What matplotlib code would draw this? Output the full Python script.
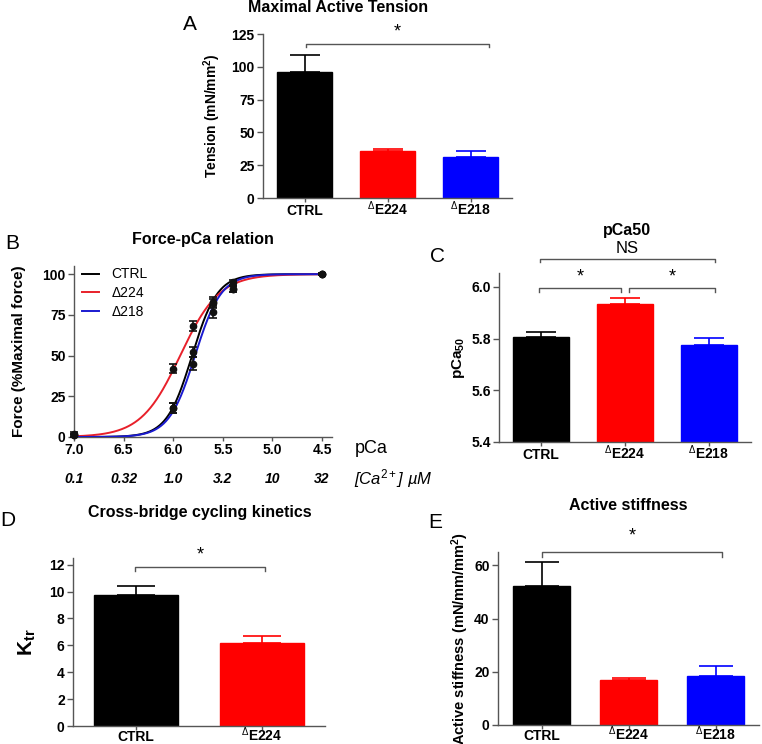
import numpy as np
import matplotlib
matplotlib.use("Agg")
import matplotlib.pyplot as plt
import matplotlib.transforms as mtransforms

plt.rcParams['font.family'] = ['Liberation Sans', 'DejaVu Sans']
plt.rcParams['mathtext.fontset'] = 'custom'
plt.rcParams['mathtext.rm'] = 'Liberation Sans'
plt.rcParams['mathtext.it'] = 'Liberation Sans:italic'
plt.rcParams['mathtext.bf'] = 'Liberation Sans:bold'

# ---------------- data ----------------
groups3 = ["CTRL", "ΔE224", "ΔE218"]
groups2 = ["CTRL", "ΔE224"]
bar_colors = ["#000000", "#ff0000", "#0000ff"]

tension_mean = [96, 35.5, 31]
tension_sem = [13, 2, 5]

pca50_mean = [5.807, 5.935, 5.776]
pca50_sem = [0.019, 0.023, 0.027]

ktr_mean = [9.78, 6.19]
ktr_sem = [0.67, 0.51]

stiff_mean = [52.1, 16.9, 18.4]
stiff_sem = [9.0, 0.9, 3.7]

pca_points = [7.0, 6.0, 5.8, 5.6, 5.4, 4.5]
force_ctrl = [2, 18, 52, 82, 95, 100]
force_ctrl_err = [1, 3, 3, 3, 1.5, 0.5]
force_d224 = [1, 42, 68, 83, 91, 100]
force_d224_err = [1, 3, 3, 3, 2, 0.5]
force_d218 = [1, 18, 45, 77, 91, 100]
force_d218_err = [1, 3, 4, 4, 2, 0.5]

fit_pca50 = {"CTRL": 5.81, "Δ224": 5.93, "Δ218": 5.78}
fit_hill = {"CTRL": 3.4, "Δ224": 2.2, "Δ218": 3.3}
line_colors = {"CTRL": "#000000", "Δ224": "#e8202a", "Δ218": "#1a1ad0"}

pca_ticks = [7.0, 6.5, 6.0, 5.5, 5.0, 4.5]
ca_labels = ["0.1", "0.32", "1.0", "3.2", "10", "32"]

# ---------------- layout ----------------
W, H = 762, 744
fig = plt.figure(figsize=(W / 100, H / 100), dpi=100)


def ax_px(l, r, t, b):
    return fig.add_axes([l / W, 1 - b / H, (r - l) / W, (b - t) / H])


TICK_FS = 10
TITLE_FS = 11.5
LETTER_FS = 15
SPINE_C = "#555555"


def style(ax):
    for s in ["top", "right"]:
        ax.spines[s].set_visible(False)
    for s in ["left", "bottom"]:
        ax.spines[s].set_color(SPINE_C)
        ax.spines[s].set_linewidth(1.0)
    ax.tick_params(direction="out", length=4, width=1.0, color=SPINE_C,
                   labelsize=TICK_FS, pad=2)
    ax.tick_params(axis="x", length=3, pad=1)
    for lab in ax.get_yticklabels() + ax.get_xticklabels():
        lab.set_fontweight("bold")


def xlabels(ax, names, offset_px=16):
    ax.set_xticks(range(len(names)))
    ax.set_xticklabels([])
    trans = mtransforms.offset_copy(ax.get_xaxis_transform(), fig=fig,
                                    x=0, y=-offset_px, units="dots")
    for i, n in enumerate(names):
        if n.startswith("Δ"):
            lab = r"$^{\Delta}$" + n[1:]
        else:
            lab = n
        ax.text(i, 0, lab, transform=trans, ha="center", va="baseline",
                fontweight="bold", fontsize=TICK_FS)


def bars(ax, means, sems, colors, capsize, width=0.66):
    x = np.arange(len(means))
    ax.bar(x, means, width=width, color=colors, edgecolor=colors, zorder=2)
    for xi, m, s, c in zip(x, means, sems, colors):
        ax.errorbar([xi], [m], yerr=[[0], [s]], fmt="none", ecolor=c,
                    elinewidth=1.2, capsize=capsize, capthick=1.2, zorder=1)


def bracket(ax, x0, x1, y, drop, text, ty, fs=13):
    ax.plot([x0, x0, x1, x1], [y - drop, y, y, y - drop], color="#555555",
            lw=1.0, clip_on=False)
    ax.text((x0 + x1) / 2, ty, text, ha="center", va="center", fontsize=fs,
            clip_on=False)


# ---------------- Panel A ----------------
axA = ax_px(263, 512, 34, 198)
bars(axA, tension_mean, tension_sem, bar_colors, capsize=10.5)
axA.set_xlim(-0.5, 2.5)
axA.set_ylim(0, 125)
axA.set_yticks([0, 25, 50, 75, 100, 125])
style(axA)
xlabels(axA, groups3, 17)
axA.set_ylabel("Tension (mN/mm$^\\mathbf{2}$)", fontweight="bold", fontsize=10, labelpad=6)
bracket(axA, 0.02, 2.22, 117.4, 2.5, "*", 126.5)
fig.text(338 / W, 1 - 8 / H, "Maximal Active Tension", ha="center", va="center",
         fontweight="bold", fontsize=TITLE_FS)
fig.text(190 / W, 1 - 25 / H, "A", ha="center", va="center", fontsize=LETTER_FS)

# ---------------- Panel B ----------------
axB = ax_px(74, 332, 266, 437)
xs = np.linspace(7.0, 4.5, 400)
for name in ["CTRL", "Δ224", "Δ218"]:
    y = 100 / (1 + 10 ** (fit_hill[name] * (xs - fit_pca50[name])))
    axB.plot(xs, y, color=line_colors[name], lw=1.4, label=name, zorder=3)
for vals, errs in [(force_ctrl, force_ctrl_err), (force_d224, force_d224_err),
                   (force_d218, force_d218_err)]:
    axB.errorbar(pca_points, vals, yerr=errs, fmt="o", color="#111111",
                 ms=4.5, elinewidth=1.2, capsize=3, capthick=1.2, zorder=4,
                 clip_on=False)
axB.set_xlim(7.0, 4.4)
axB.set_ylim(0, 105)
axB.set_yticks([0, 25, 50, 75, 100])
axB.set_xticks(pca_ticks)
axB.set_xticklabels([f"{t:.1f}" for t in pca_ticks])
style(axB)
axB.set_ylabel("Force (%Maximal force)", fontweight="bold", fontsize=11, labelpad=12)
leg = axB.legend(loc="upper left", frameon=False, fontsize=10, handlelength=1.2,
                 borderaxespad=0.2, labelspacing=0.35, handletextpad=0.9,
                 bbox_to_anchor=(0.0, 1.04))
for i, t in enumerate(pca_ticks):
    axB.text(t, -0.245, ca_labels[i], transform=axB.get_xaxis_transform(),
             ha="center", va="center", fontsize=TICK_FS, fontweight="bold",
             fontstyle="italic")
axB.text(4.17, -0.07, "pCa", transform=axB.get_xaxis_transform(), ha="left",
         va="center", fontsize=13)
axB.text(4.18, -0.245, "[Ca$^{2+}$] \u00b5M", transform=axB.get_xaxis_transform(),
         ha="left", va="center", fontsize=12, fontstyle="italic")
fig.text(203 / W, 1 - 240 / H, "Force-pCa relation", ha="center", va="center",
         fontweight="bold", fontsize=TITLE_FS)
fig.text(12 / W, 1 - 243 / H, "B", ha="center", va="center", fontsize=LETTER_FS)

# ---------------- Panel C ----------------
axC = ax_px(499, 751, 273, 442)
bars(axC, pca50_mean, pca50_sem, bar_colors, capsize=10.5)
axC.set_xlim(-0.5, 2.5)
axC.set_ylim(5.4, 6.054)
axC.set_yticks([5.4, 5.6, 5.8, 6.0])
axC.set_yticklabels(["5.4", "5.6", "5.8", "6.0"])
style(axC)
xlabels(axC, groups3, 17)
axC.set_ylabel("pCa$_{\\mathbf{50}}$", fontweight="bold", fontsize=11, labelpad=3)
bracket(axC, -0.01, 2.07, 6.109, 0.014, "NS", 6.147, fs=12)
bracket(axC, -0.02, 0.95, 5.996, 0.016, "*", 6.04)
bracket(axC, 1.05, 2.07, 5.996, 0.016, "*", 6.04)
fig.text(627 / W, 1 - 230 / H, "pCa50", ha="center", va="center",
         fontweight="bold", fontsize=TITLE_FS)
fig.text(437 / W, 1 - 257 / H, "C", ha="center", va="center", fontsize=LETTER_FS)

# ---------------- Panel D ----------------
axD = ax_px(73, 325, 558, 726)
bars(axD, ktr_mean, ktr_sem, bar_colors[:2], capsize=13.5)
axD.set_xlim(-0.5, 1.5)
axD.set_ylim(0, 12.5)
axD.set_yticks([0, 2, 4, 6, 8, 10, 12])
style(axD)
xlabels(axD, groups2, 15)
axD.set_ylabel("K$_{\\mathbf{tr}}$", fontweight="bold", fontsize=15, labelpad=8)
bracket(axD, -0.005, 1.02, 11.8, 0.3, "*", 12.75)
fig.text(200 / W, 1 - 512 / H, "Cross-bridge cycling kinetics", ha="center",
         va="center", fontweight="bold", fontsize=TITLE_FS)
fig.text(8 / W, 1 - 520 / H, "D", ha="center", va="center", fontsize=LETTER_FS)

# ---------------- Panel E ----------------
axE = ax_px(498, 759, 552, 725)
bars(axE, stiff_mean, stiff_sem, bar_colors, capsize=12)
axE.set_xlim(-0.5, 2.5)
axE.set_ylim(0, 65)
axE.set_yticks([0, 20, 40, 60])
style(axE)
xlabels(axE, groups3, 15)
axE.set_ylabel("Active stiffness (mN/mm/mm$^\\mathbf{2}$)", fontweight="bold",
               fontsize=10.5, labelpad=2)
bracket(axE, 0.01, 2.08, 65, 1.8, "*", 71)
fig.text(628 / W, 1 - 505 / H, "Active stiffness", ha="center", va="center",
         fontweight="bold", fontsize=TITLE_FS)
fig.text(435 / W, 1 - 523 / H, "E", ha="center", va="center", fontsize=LETTER_FS)

fig.savefig("out.png", dpi=100, facecolor="white")
